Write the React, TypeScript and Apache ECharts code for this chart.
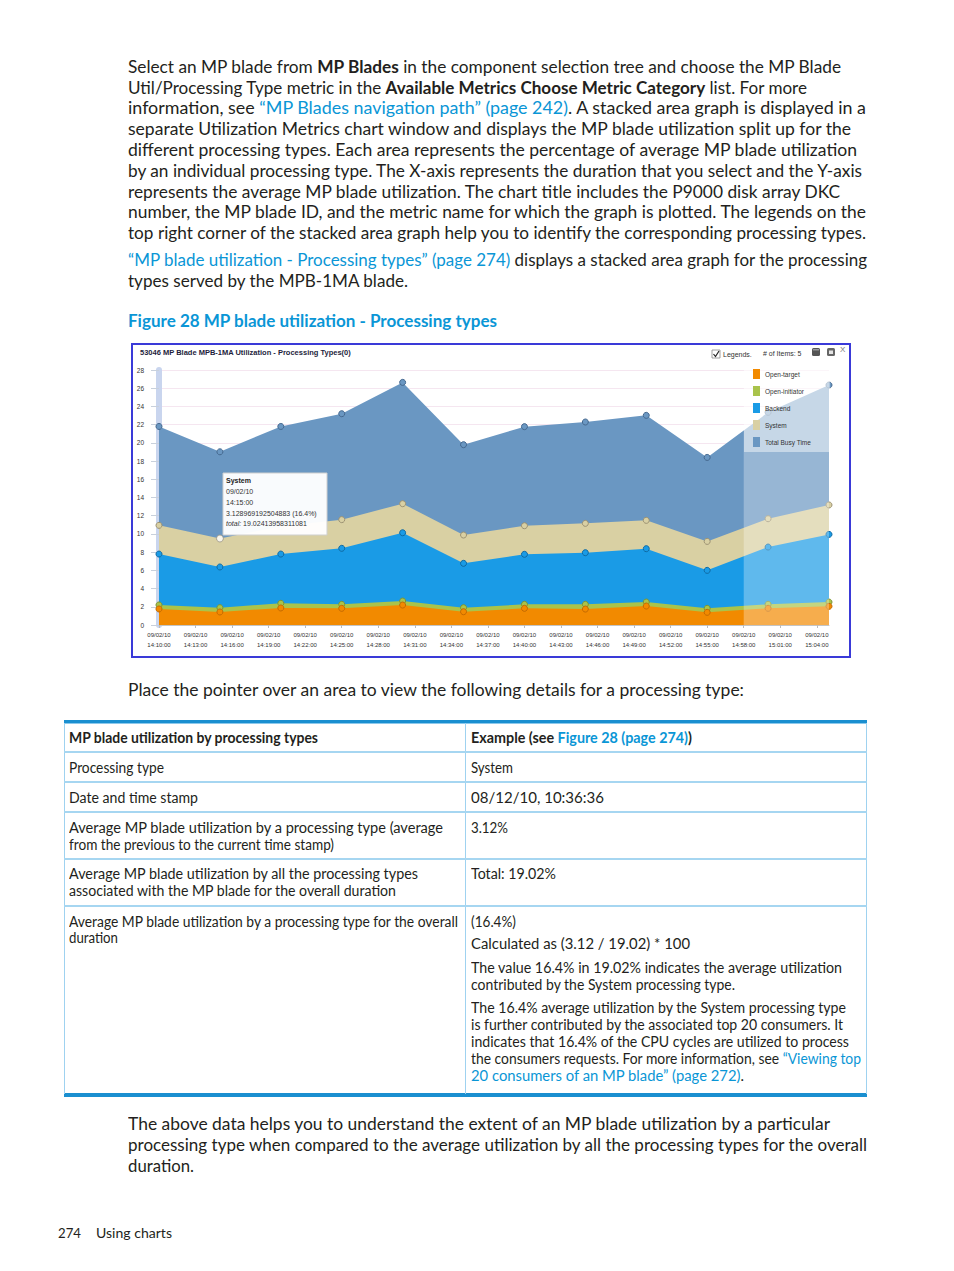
import React, { useEffect, useLayoutEffect, useRef } from "react";
import * as echarts from "echarts";

// ---------------- chart data ----------------
const sampleTimes = ["14:10", "14:15", "14:20", "14:25", "14:30", "14:35", "14:40", "14:45", "14:50", "14:55", "15:00", "15:05"];
const tickTimes = ["14:10", "14:13", "14:16", "14:19", "14:22", "14:25", "14:28", "14:31", "14:34", "14:37", "14:40", "14:43", "14:46", "14:49", "14:52", "14:55", "14:58", "15:01", "15:04"];
const openTarget = [1.76, 1.43, 1.87, 1.83, 2.19, 1.46, 1.83, 1.75, 2.08, 1.39, 1.83, 2.05];
const openInitiator = [0.44, 0.47, 0.51, 0.44, 0.44, 0.44, 0.44, 0.52, 0.44, 0.44, 0.44, 0.47];
const backend = [5.59, 4.47, 5.41, 6.15, 7.5, 4.87, 5.49, 5.67, 5.86, 4.17, 6.29, 7.43];
const systemVals = [3.15, 3.13, 3.04, 3.15, 3.19, 3.11, 3.14, 3.22, 3.11, 3.18, 3.11, 3.23];
const totalBusy = [21.8, 19.02, 21.8, 23.2, 26.64, 19.8, 21.78, 22.29, 23.02, 18.4, 23.35, 26.35];
const yTicks = { min: 0, max: 28, step: 2 };
const datePrefix = "09/02/10";
const legendNames = ["Open-target", "Open-initiator", "Backend", "System", "Total Busy Time"];
const selectionRange = ["14:58", "15:05"];
const hoverIndex = 1;

const toMin = (t: string) => {
  const [h, m] = t.split(":").map(Number);
  return h * 60 + m - (14 * 60 + 10);
};
const fromMin = (v: number) => {
  const tot = 14 * 60 + 10 + Math.round(v);
  const hh = Math.floor(tot / 60);
  const mm = tot % 60;
  return `${hh}:${mm < 10 ? "0" + mm : mm}:00`;
};

const CF = '"Liberation Sans", Arial, sans-serif';

function Chart() {
  const ref = useRef<HTMLDivElement>(null);
  useEffect(() => {
    const chart = echarts.init(ref.current!, null, { renderer: "svg" });
    // stacked layers (bottom to top), accumulated for drawing
    const layers = [openTarget, openInitiator, backend, systemVals];
    const cum: number[][] = [];
    layers.forEach((arr, k) => {
      cum.push(arr.map((v, i) => +(v + (k > 0 ? cum[k - 1][i] : 0)).toFixed(4)));
    });
    const pts = (arr: number[]) => sampleTimes.map((t, i) => [toMin(t), arr[i]]);
    const mk = (name: string, arr: number[], fill: string, border: string, z: number) => ({
      name,
      type: "line",
      data: pts(arr),
      z,
      symbol: "circle",
      symbolSize: 6,
      showSymbol: true,
      lineStyle: { width: 0, opacity: 0 },
      areaStyle: { color: fill, opacity: 1, origin: "start" },
      itemStyle: { color: fill, borderColor: border, borderWidth: 1 },
      emphasis: { disabled: true },
    });
    const option: any = {
      animation: false,
      textStyle: { fontFamily: CF },
      title: {
        text: "53046 MP Blade MPB-1MA Utilization - Processing Types(0)",
        left: 7,
        top: 3,
        padding: 0,
        textStyle: { fontSize: 7.5, fontWeight: "bold", color: "#1e1e3c", fontFamily: CF },
      },
      legend: {
        orient: "vertical",
        left: 611,
        top: 20,
        padding: [4, 19, 5, 9],
        itemWidth: 7,
        itemHeight: 10,
        itemGap: 7,
        icon: "rect",
        backgroundColor: "rgba(255,255,255,0.45)",
        itemStyle: { borderWidth: 0 },
        textStyle: { fontSize: 6.5, color: "#333", fontFamily: CF },
        data: legendNames,
        z: 20,
      },
      grid: { left: 26, right: 20, top: 25, bottom: 31 },
      xAxis: {
        type: "value",
        min: toMin(sampleTimes[0]),
        max: toMin(sampleTimes[sampleTimes.length - 1]),
        interval: 3,
        axisLine: { show: true, lineStyle: { color: "#c4c4c4" } },
        axisTick: { show: true, length: 3, lineStyle: { color: "#bbbbbb" }, customValues: tickTimes.map(toMin) },
        axisLabel: {
          customValues: tickTimes.map(toMin),
          formatter: (v: number) => `${datePrefix}\n${fromMin(v)}`,
          fontSize: 6,
          lineHeight: 10,
          color: "#333",
          margin: 5,
          fontFamily: CF,
        },
        splitLine: { show: false },
      },
      yAxis: {
        type: "value",
        min: yTicks.min,
        max: yTicks.max,
        interval: yTicks.step,
        offset: 3,
        axisLine: { show: true, lineStyle: { color: "#c9d5ee", width: 6 } },
        axisTick: { show: true, length: 8, lineStyle: { color: "#c8d0dc" } },
        axisLabel: { fontSize: 6.5, color: "#333", margin: 12, fontFamily: CF },
        splitLine: { show: true, lineStyle: { color: "#f5e6f0" } },
      },
      series: [
        mk("Total Busy Time", totalBusy, "#6a97c2", "#45688e", 2),
        mk("System", cum[3], "#d9d0a3", "#9c9273", 3),
        mk("Backend", cum[2], "#1a9be6", "#0f6aa3", 4),
        mk("Open-initiator", cum[1], "#a9c34b", "#7c9433", 5),
        mk("Open-target", cum[0], "#f28a00", "#c46a00", 6),
        {
          name: "hover",
          type: "scatter",
          z: 7,
          symbol: "circle",
          symbolSize: 7,
          itemStyle: { color: "#ffffff", borderColor: "#a09a88", borderWidth: 1 },
          data: [[toMin(sampleTimes[hoverIndex]), cum[3][hoverIndex]]],
          emphasis: { disabled: true },
        },
        {
          name: "selection",
          type: "line",
          z: 8,
          showSymbol: false,
          lineStyle: { opacity: 0 },
          data: [[toMin(selectionRange[0]), 0]],
          markArea: {
            silent: true,
            z: 8,
            itemStyle: { color: "rgba(255,255,255,0.3)" },
            data: [[{ xAxis: toMin(selectionRange[0]) }, { xAxis: toMin(selectionRange[1]) }]],
          },
        },
      ],
      graphic: [
        { type: "rect", shape: { x: 579, y: 5, width: 8, height: 8 }, style: { fill: "#fff", stroke: "#888", lineWidth: 0.8 } },
        { type: "polyline", shape: { points: [[580.5, 9], [582.5, 11.5], [586, 6]] }, style: { stroke: "#222", lineWidth: 1.2, fill: null } },
        { type: "text", x: 590, y: 9, style: { text: "Legends.", fontSize: 7, fill: "#333", verticalAlign: "middle", fontFamily: CF } },
        { type: "text", x: 630, y: 8, style: { text: "# of Items: 5", fontSize: 7, fill: "#333", verticalAlign: "middle", fontFamily: CF } },
        { type: "rect", shape: { x: 679, y: 3, width: 8, height: 8, r: 1.5 }, style: { fill: "#555" } },
        { type: "rect", shape: { x: 680, y: 4, width: 6, height: 1.5 }, style: { fill: "#999" } },
        { type: "rect", shape: { x: 694, y: 3, width: 8, height: 8, r: 1.5 }, style: { fill: "#666" } },
        { type: "rect", shape: { x: 696, y: 5.5, width: 4, height: 3.5 }, style: { fill: "#e4e4e4" } },
        { type: "text", x: 707, y: 4, style: { text: "X", fontSize: 8, fill: "#777", verticalAlign: "middle", fontFamily: CF } },
        {
          type: "group",
          z: 30,
          children: [
            { type: "rect", z: 30, shape: { x: 90, y: 128, width: 104, height: 62 }, style: { fill: "rgba(255,255,255,0.96)", stroke: "#cfcfcf", lineWidth: 1 } },
            { type: "text", z: 31, x: 93, y: 135, style: { text: "System", fontSize: 7, fontWeight: "bold", fill: "#222", verticalAlign: "middle", fontFamily: CF } },
            { type: "text", z: 31, x: 93, y: 146, style: { text: datePrefix, fontSize: 7, fill: "#333", verticalAlign: "middle", fontFamily: CF } },
            { type: "text", z: 31, x: 93, y: 157, style: { text: fromMin(toMin(sampleTimes[hoverIndex])), fontSize: 7, fill: "#333", verticalAlign: "middle", fontFamily: CF } },
            { type: "text", z: 31, x: 93, y: 168, style: { text: "3.128969192504883 (16.4%)", fontSize: 7, fill: "#333", verticalAlign: "middle", fontFamily: CF } },
            {
              type: "text",
              z: 31,
              x: 93,
              y: 178.5,
              style: {
                text: "{i|total:} 19.02413958311081",
                fontSize: 7,
                fill: "#333",
                verticalAlign: "middle",
                fontFamily: CF,
                rich: { i: { fontStyle: "italic", fontSize: 7, fill: "#333", fontFamily: CF } },
              },
            },
          ],
        },
      ],
    };
    chart.setOption(option);
    return () => chart.dispose();
  }, []);
  return <div ref={ref} style={{ width: 716, height: 311 }} />;
}

// ---------------- page text ----------------
const FONT = 'Lato, "Open Sans", sans-serif';
const INK = "#231f20";
const LINK = "#0a96d6";

type Seg = [string, string?];

function Line({ x, base, w, size = 16.5, segs, weight = 400, color = INK }: { x: number; base: number; w?: number; size?: number; segs: Seg[]; weight?: number; color?: string }) {
  const ref = useRef<HTMLDivElement>(null);
  useLayoutEffect(() => {
    const el = ref.current;
    if (!el || !w) return;
    el.style.transform = "none";
    const nat = el.getBoundingClientRect().width;
    if (nat > 0) el.style.transform = `scaleX(${(w - x) / nat})`;
  }, [w, x]);
  return (
    <div
      ref={ref}
      style={{
        position: "absolute",
        left: x,
        top: base + 1.5 - 0.887 * size,
        fontSize: size,
        lineHeight: `${size}px`,
        whiteSpace: "nowrap",
        fontFamily: FONT,
        color,
        fontWeight: weight,
        transformOrigin: "0 0",
      }}
    >
      {segs.map(([t, s], i) => (
        <span key={i} style={{ fontWeight: s && s.includes("b") ? 700 : undefined, color: s && s.includes("l") ? LINK : undefined }}>
          {t}
        </span>
      ))}
    </div>
  );
}

const para1: [number, number, Seg[]][] = [
  [72, 841, [["Select an MP blade from "], ["MP Blades", "b"], [" in the component selection tree and choose the MP Blade"]]],
  [92.8, 807, [["Util/Processing Type metric in the "], ["Available Metrics Choose Metric Category", "b"], [" list. For more"]]],
  [113.6, 866, [["information, see "], ["“MP Blades navigation path” (page 242)", "l"], [". A stacked area graph is displayed in a"]]],
  [134.4, 851, [["separate Utilization Metrics chart window and displays the MP blade utilization split up for the"]]],
  [155.2, 857, [["different processing types. Each area represents the percentage of average MP blade utilization"]]],
  [176, 862, [["by an individual processing type. The X-axis represents the duration that you select and the Y-axis"]]],
  [196.8, 840, [["represents the average MP blade utilization. The chart title includes the P9000 disk array DKC"]]],
  [217.6, 866, [["number, the MP blade ID, and the metric name for which the graph is plotted. The legends on the"]]],
  [238.4, 866, [["top right corner of the stacked area graph help you to identify the corresponding processing types."]]],
  [265.5, 867, [["“MP blade utilization - Processing types” (page 274)", "l"], [" displays a stacked area graph for the processing"]]],
  [286.3, 408, [["types served by the MPB-1MA blade."]]],
  [695.5, 744, [["Place the pointer over an area to view the following details for a processing type:"]]],
  [1129.5, 830, [["The above data helps you to understand the extent of an MP blade utilization by a particular"]]],
  [1150.3, 867, [["processing type when compared to the average utilization by all the processing types for the overall"]]],
  [1171, 194, [["duration."]]],
];

// table cells: [x, baseline, rightEdge, segs]
const TS = 14.5;
const tableText: [number, number, number, Seg[]][] = [
  [69, 742, 318, [["MP blade utilization by processing types", "b"]]],
  [471, 742, 692, [["Example (see ", "b"], ["Figure 28 (page 274)", "bl"], [")", "b"]]],
  [69, 772, 164, [["Processing type"]]],
  [471, 772, 513, [["System"]]],
  [69, 802, 198, [["Date and time stamp"]]],
  [471, 802, 604, [["08/12/10, 10:36:36"]]],
  [69, 832, 443, [["Average MP blade utilization by a processing type (average"]]],
  [69, 849, 334, [["from the previous to the current time stamp)"]]],
  [471, 832, 508, [["3.12%"]]],
  [69, 878, 418, [["Average MP blade utilization by all the processing types"]]],
  [69, 895, 396, [["associated with the MP blade for the overall duration"]]],
  [471, 878, 556, [["Total: 19.02%"]]],
  [69, 926, 458, [["Average MP blade utilization by a processing type for the overall"]]],
  [69, 942, 118, [["duration"]]],
  [471, 926, 516, [["(16.4%)"]]],
  [471, 948, 690, [["Calculated as (3.12 / 19.02) * 100"]]],
  [471, 972, 842, [["The value 16.4% in 19.02% indicates the average utilization"]]],
  [471, 989, 735, [["contributed by the System processing type."]]],
  [471, 1012, 846, [["The 16.4% average utilization by the System processing type"]]],
  [471, 1029, 843, [["is further contributed by the associated top 20 consumers. It"]]],
  [471, 1046, 849, [["indicates that 16.4% of the CPU cycles are utilized to process"]]],
  [471, 1063, 861, [["the consumers requests. For more information, see "], ["“Viewing top", "l"]]],
  [471, 1080, 744, [["20 consumers of an MP blade” (page 272)", "l"], ["."]]],
];

const rowLines = [751, 781, 811, 857.5, 905];

export default function App() {
  return (
    <div style={{ position: "absolute", left: 0, top: 0, width: 954, height: 1271, background: "#fff", overflow: "hidden" }}>
      {para1.map(([b, w, segs], i) => (
        <Line key={"p" + i} x={128} base={b} w={w} segs={segs} />
      ))}
      <Line x={128} base={326} w={497} segs={[["Figure 28 MP blade utilization - Processing types"]]} weight={700} color={LINK} />

      <div
        style={{
          position: "absolute",
          left: 131,
          top: 343,
          width: 720,
          height: 315,
          border: "2px solid #3a3ad8",
          boxSizing: "border-box",
          background: "#fff",
        }}
      >
        <Chart />
      </div>

      {/* table */}
      <div style={{ position: "absolute", left: 64, top: 720, width: 803, height: 3, background: "#1a8fd0" }} />
      <div style={{ position: "absolute", left: 64, top: 723, width: 803, height: 1, background: "#8cc9ec" }} />
      <div style={{ position: "absolute", left: 64, top: 1093, width: 803, height: 3.5, background: "#1a8fd0" }} />
      <div style={{ position: "absolute", left: 64, top: 723, width: 1, height: 371, background: "#9fd2f0" }} />
      <div style={{ position: "absolute", left: 866, top: 723, width: 1, height: 371, background: "#9fd2f0" }} />
      <div style={{ position: "absolute", left: 465, top: 723, width: 1, height: 371, background: "#9fd2f0" }} />
      {rowLines.map((y, i) => (
        <div key={"r" + i} style={{ position: "absolute", left: 64, top: y, width: 803, height: 2, background: "#a6d6f1" }} />
      ))}
      {tableText.map(([x, b, w, segs], i) => (
        <Line key={"t" + i} x={x} base={b} w={w} size={TS} segs={segs} />
      ))}

      <Line x={58} base={1237} w={81} size={14} segs={[["274"]]} />
      <Line x={96} base={1237} w={172} size={14} segs={[["Using charts"]]} />
    </div>
  );
}
